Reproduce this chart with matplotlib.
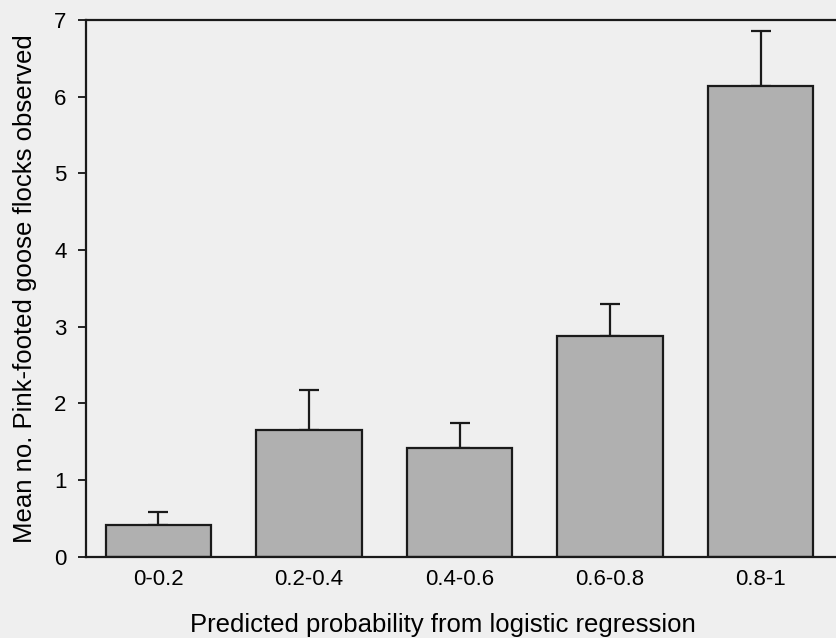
import numpy as np
import matplotlib
matplotlib.use('Agg')
import matplotlib.pyplot as plt

plt.rcParams['font.family'] = ['Liberation Sans', 'DejaVu Sans']

# Data
categories = ['0-0.2', '0.2-0.4', '0.4-0.6', '0.6-0.8', '0.8-1']
means = [0.42, 1.66, 1.42, 2.88, 6.14]
upper_err = [0.17, 0.52, 0.33, 0.41, 0.72]

fig = plt.figure(figsize=(8.36, 6.38), dpi=100, facecolor='#efefef')
ax = fig.add_axes([0.103, 0.127, 0.897, 0.842])
ax.set_facecolor('#efefef')

x = np.arange(len(categories))
ax.bar(x, means, width=0.70, color='#b0b0b0', edgecolor='#1a1a1a', linewidth=1.6, zorder=2)
ax.errorbar(x, means, yerr=[np.zeros(len(means)), upper_err], fmt='none',
            ecolor='#1a1a1a', elinewidth=1.6, capsize=7, capthick=1.6, zorder=1)

ax.set_xlim(-0.48, 4.5)
ax.set_ylim(0, 7)
ax.set_yticks(range(0, 8))
ax.set_xticks(x)
ax.set_xticklabels(categories)

ax.spines['right'].set_visible(False)
for s in ['left', 'bottom', 'top']:
    ax.spines[s].set_linewidth(1.6)
    ax.spines[s].set_color('#1a1a1a')

ax.tick_params(axis='y', direction='out', length=6, width=1.2, labelsize=16, pad=8)
ax.tick_params(axis='x', length=0, labelsize=16, pad=9)

ax.set_ylabel('Mean no. Pink-footed goose flocks observed', fontsize=18.5)
ax.yaxis.set_label_coords(-0.066, 0.5)
ax.set_xlabel('Predicted probability from logistic regression', fontsize=18.5)
ax.xaxis.set_label_coords(0.476, -0.105)

fig.savefig('out.png', dpi=100, facecolor=fig.get_facecolor())
